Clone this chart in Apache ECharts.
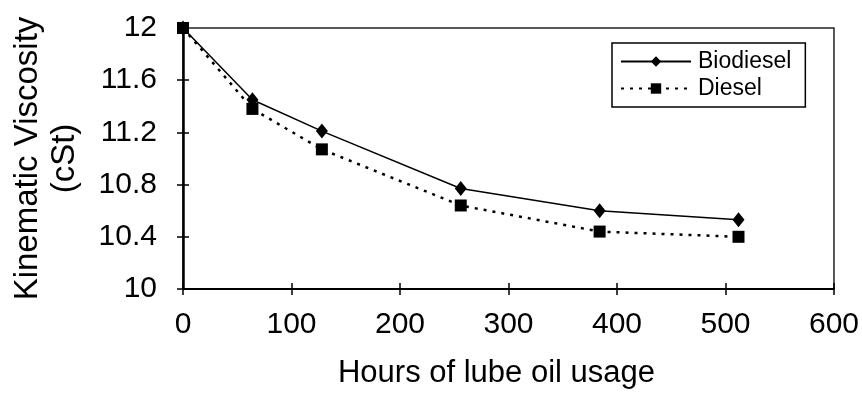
<!DOCTYPE html>
<html><head><meta charset="utf-8">
<script src="https://cdn.jsdelivr.net/npm/echarts@6/dist/echarts.min.js"></script>
<style>html,body{margin:0;padding:0;background:#fff}#c{width:862px;height:398px}</style>
</head><body><div id="c"></div>
<script>
const hours = [0, 64, 128, 256, 384, 512];
const biodiesel = [12.0, 11.45, 11.21, 10.77, 10.60, 10.53];
const diesel = [12.0, 11.38, 11.07, 10.64, 10.44, 10.40];
const seriesNames = ['Biodiesel', 'Diesel'];
const xTitle = 'Hours of lube oil usage';
const yTitle = 'Kinematic Viscosity\n(cSt)';

const FONT = '"Liberation Sans", Arial, sans-serif';
const chart = echarts.init(document.getElementById('c'), null, {renderer: 'canvas'});
const fmtY = v => String(Math.round(v * 10) / 10);
chart.setOption({
  animation: false,
  backgroundColor: '#fff',
  textStyle: {fontFamily: FONT, color: '#000'},
  grid: {left: 183, right: 27, top: 28, bottom: 109, show: true, borderColor: '#222', borderWidth: 1.5, backgroundColor: 'transparent'},
  legend: {
    orient: 'vertical', left: 612, top: 43,
    padding: [7, 14, 7, 8], itemGap: 4,
    itemWidth: 70, itemHeight: 13,
    borderColor: '#000', borderWidth: 1.5,
    textStyle: {fontFamily: FONT, fontSize: 23, color: '#000', padding: [0,0,0,2]},
    data: seriesNames
  },
  xAxis: [{
    type: 'value', min: 0, max: 600, interval: 100,
    name: xTitle, nameLocation: 'middle', nameGap: 69,
    nameTextStyle: {fontFamily: FONT, fontSize: 31, color: '#000', padding: [0, 24, 0, 0]},
    axisLine: {show: true, onZero: false, lineStyle: {color: '#000', width: 2}},
    axisTick: {show: true, length: 6, lineStyle: {color: '#000', width: 1.5}},
    axisLabel: {fontFamily: FONT, fontSize: 30, color: '#000', margin: 21},
    splitLine: {show: false}
  }, {
    type: 'value', min: 0, max: 600, interval: 100, position: 'bottom', gridIndex: 0,
    axisLine: {show: false},
    axisTick: {show: true, inside: true, length: 6, lineStyle: {color: '#000', width: 1.5}},
    axisLabel: {show: false}, splitLine: {show: false}
  }],
  yAxis: [{
    type: 'value', min: 10, max: 12, interval: 0.4,
    name: yTitle, nameLocation: 'middle', nameGap: 100, nameRotate: 90,
    nameTextStyle: {fontFamily: FONT, fontSize: 33, color: '#000', lineHeight: 37, align: 'center'},
    axisLine: {show: true, onZero: false, lineStyle: {color: '#000', width: 2.5}},
    axisTick: {show: true, length: 6, lineStyle: {color: '#000', width: 1.5}},
    axisLabel: {fontFamily: FONT, fontSize: 30, color: '#000', margin: 26, formatter: fmtY},
    splitLine: {show: false}
  }, {
    type: 'value', min: 10, max: 12, interval: 0.4, position: 'left', gridIndex: 0,
    axisLine: {show: false},
    axisTick: {show: true, inside: true, length: 6, lineStyle: {color: '#000', width: 1.5}},
    axisLabel: {show: false}, splitLine: {show: false}
  }],
  series: [{
    name: seriesNames[0], type: 'line',
    data: hours.map((h, i) => [h, biodiesel[i]]),
    symbol: 'diamond', symbolSize: [12, 15],
    itemStyle: {color: '#000'},
    lineStyle: {color: '#000', width: 1.5, type: 'solid'},
    z: 3
  }, {
    name: seriesNames[1], type: 'line',
    data: hours.map((h, i) => [h, diesel[i]]),
    symbol: 'rect', symbolSize: 12,
    itemStyle: {color: '#000'},
    lineStyle: {color: '#000', width: 2.5, type: [3, 6]},
    z: 2
  }]
});
</script></body></html>
